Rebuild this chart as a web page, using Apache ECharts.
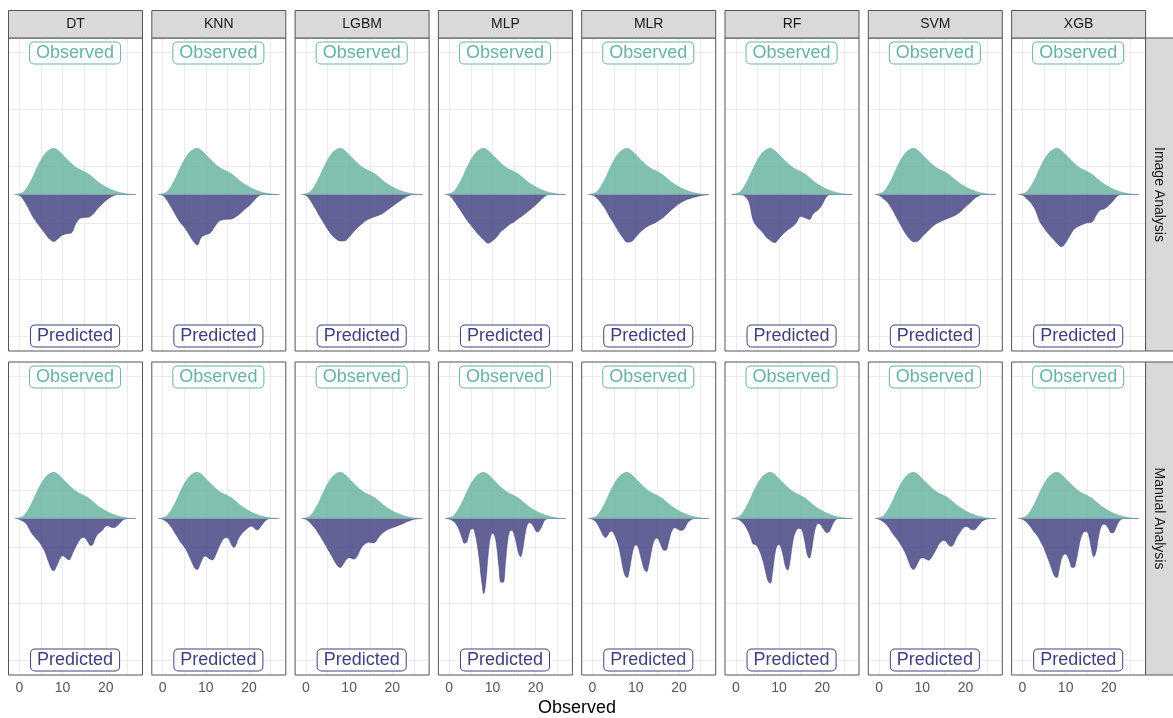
<!DOCTYPE html>
<html>
<head>
<meta charset="utf-8">
<script src="https://cdn.jsdelivr.net/npm/echarts@6/dist/echarts.min.js"></script>
<style>
  html, body { margin: 0; padding: 0; background: #ffffff; }
  #chart { width: 1173px; height: 718px; }
</style>
</head>
<body>
<div id="chart"></div>
<script>
// Facets
const models = ['DT', 'KNN', 'LGBM', 'MLP', 'MLR', 'RF', 'SVM', 'XGB'];
const analyses = ['Image Analysis', 'Manual Analysis'];

// Axis ticks and grid lines
const xTickValues = [0, 10, 20];
const xGridValues = [0, 5, 10, 15, 20, 25];
const yGridValues = [-5, -3, -1, 1, 3, 5];

// Sample positions of the density curves
const xCoarse = [-1, 0, 1, 2, 3, 4, 5, 6, 7, 8, 9, 10, 11, 12, 13, 14, 15, 16, 17, 18, 19, 20, 21, 22, 23, 24, 25, 26, 27];
const xFine = [-1, -0.5, 0, 0.5, 1, 1.5, 2, 2.5, 3, 3.5,
  4, 4.5, 5, 5.5, 6, 6.5, 7, 7.5, 8, 8.5,
  9, 9.5, 10, 10.5, 11, 11.5, 12, 12.5, 13, 13.5,
  14, 14.5, 15, 15.5, 16, 16.5, 17, 17.5, 18, 18.5,
  19, 19.5, 20, 20.5, 21, 21.5, 22, 22.5, 23, 23.5,
  24, 24.5, 25, 25.5, 26, 26.5, 27];

// Observed density (same in every panel), on xCoarse
const observedDensity = [0, 0.03, 0.1, 0.3, 0.58, 0.92, 1.22, 1.45, 1.58, 1.63, 1.55, 1.4, 1.25, 1.1, 0.97, 0.88, 0.81, 0.72, 0.6, 0.47, 0.36, 0.27, 0.19, 0.13, 0.08, 0.05, 0.02, 0.01, 0];

// Predicted densities, Image Analysis, on xCoarse
const imageDT   = [0, 0.03, 0.2, 0.45, 0.75, 0.98, 1.18, 1.38, 1.57, 1.66, 1.55, 1.43, 1.38, 1.36, 1.05, 0.85, 0.81, 0.8, 0.7, 0.52, 0.36, 0.22, 0.11, 0.03, 0, 0, 0, 0, 0];
const imageKNN  = [0, 0.03, 0.2, 0.45, 0.72, 0.97, 1.15, 1.38, 1.62, 1.78, 1.5, 1.42, 1.36, 1.15, 0.95, 0.89, 0.87, 0.86, 0.78, 0.66, 0.52, 0.4, 0.24, 0.08, 0, 0, 0, 0, 0];
const imageLGBM = [0, 0.03, 0.2, 0.45, 0.72, 0.97, 1.22, 1.43, 1.57, 1.64, 1.63, 1.5, 1.32, 1.16, 1.03, 0.91, 0.84, 0.78, 0.72, 0.64, 0.53, 0.42, 0.31, 0.2, 0.1, 0.03, 0, 0, 0];
const imageMLP  = [0, 0.03, 0.2, 0.42, 0.65, 0.88, 1.08, 1.27, 1.45, 1.6, 1.72, 1.63, 1.5, 1.3, 1.18, 1.05, 0.97, 0.85, 0.75, 0.62, 0.5, 0.37, 0.22, 0.08, 0, 0, 0, 0, 0];
const imageMLR  = [0, 0.02, 0.12, 0.3, 0.52, 0.8, 1.03, 1.3, 1.52, 1.68, 1.66, 1.5, 1.33, 1.2, 1.1, 1.03, 0.95, 0.85, 0.72, 0.58, 0.45, 0.33, 0.24, 0.17, 0.12, 0.08, 0.04, 0.02, 0];
const imageRF   = [0, 0, 0.01, 0.05, 0.25, 0.9, 1.15, 1.3, 1.5, 1.62, 1.7, 1.55, 1.38, 1.25, 1.15, 1.0, 0.78, 0.82, 0.88, 0.66, 0.55, 0.35, 0.08, 0, 0, 0, 0, 0, 0];
const imageSVM  = [0, 0.03, 0.15, 0.28, 0.52, 0.8, 1.08, 1.35, 1.55, 1.67, 1.64, 1.48, 1.33, 1.18, 1.05, 0.97, 0.9, 0.84, 0.78, 0.7, 0.58, 0.43, 0.3, 0.15, 0.05, 0, 0, 0, 0];
const imageXGB  = [0, 0.02, 0.15, 0.3, 0.55, 0.95, 1.18, 1.38, 1.55, 1.72, 1.84, 1.7, 1.45, 1.22, 1.12, 1.05, 1.0, 0.98, 0.75, 0.55, 0.5, 0.38, 0.22, 0.05, 0, 0, 0, 0, 0];

// Predicted densities, Manual Analysis, on xFine
const manualDT = [0, 0.005, 0.03, 0.07, 0.11, 0.17, 0.28, 0.42, 0.55, 0.64,
  0.73, 0.81, 0.92, 1.05, 1.2, 1.42, 1.62, 1.8, 1.84, 1.72,
  1.55, 1.38, 1.31, 1.35, 1.42, 1.46, 1.35, 1.17, 1.02, 0.87,
  0.75, 0.68, 0.67, 0.74, 0.86, 0.95, 0.92, 0.72, 0.58, 0.5,
  0.45, 0.36, 0.27, 0.26, 0.29, 0.32, 0.32, 0.27, 0.2, 0.12,
  0.05, 0.02, 0, 0, 0, 0, 0];
const manualKNN = [0, 0.005, 0.03, 0.07, 0.12, 0.2, 0.3, 0.42, 0.55, 0.67,
  0.8, 0.9, 1.0, 1.12, 1.28, 1.45, 1.62, 1.76, 1.8, 1.68,
  1.5, 1.35, 1.33, 1.38, 1.44, 1.46, 1.38, 1.2, 1.02, 0.86,
  0.74, 0.68, 0.68, 0.78, 0.94, 1.02, 0.92, 0.72, 0.6, 0.5,
  0.43, 0.36, 0.3, 0.27, 0.3, 0.38, 0.4, 0.33, 0.22, 0.12,
  0.05, 0.01, 0, 0, 0, 0, 0];
const manualLGBM = [0, 0.005, 0.03, 0.08, 0.15, 0.24, 0.33, 0.43, 0.55, 0.67,
  0.8, 0.93, 1.07, 1.2, 1.33, 1.47, 1.6, 1.7, 1.73, 1.65,
  1.52, 1.42, 1.38, 1.4, 1.43, 1.4, 1.28, 1.13, 1.0, 0.92,
  0.86, 0.84, 0.85, 0.86, 0.84, 0.74, 0.63, 0.55, 0.48, 0.43,
  0.38, 0.35, 0.32, 0.3, 0.27, 0.24, 0.21, 0.18, 0.14, 0.11,
  0.08, 0.05, 0.03, 0.02, 0.01, 0, 0];
const manualMLP = [0, 0.005, 0.02, 0.05, 0.1, 0.18, 0.3, 0.48, 0.7, 0.87,
  0.85, 0.6, 0.38, 0.36, 0.55, 0.95, 1.5, 2.2, 2.65, 2.2,
  1.3, 0.7, 0.52, 0.6, 1.0, 1.7, 2.25, 2.25, 1.6, 0.8,
  0.45, 0.42, 0.55, 0.85, 1.2, 1.35, 1.1, 0.6, 0.25, 0.15,
  0.18, 0.28, 0.42, 0.48, 0.4, 0.25, 0.08, 0.02, 0, 0,
  0, 0, 0, 0, 0, 0, 0];
const manualMLR = [0, 0.005, 0.03, 0.08, 0.16, 0.3, 0.45, 0.6, 0.67, 0.6,
  0.47, 0.45, 0.55, 0.72, 0.95, 1.3, 1.72, 2.0, 2.08, 1.85,
  1.4, 1.05, 0.93, 1.0, 1.25, 1.55, 1.8, 1.88, 1.65, 1.25,
  0.9, 0.72, 0.7, 0.82, 1.0, 1.12, 1.12, 0.9, 0.6, 0.4,
  0.33, 0.35, 0.4, 0.42, 0.4, 0.3, 0.15, 0.08, 0.03, 0,
  0, 0, 0, 0, 0, 0, 0];
const manualRF = [0, 0.005, 0.01, 0.03, 0.07, 0.13, 0.22, 0.35, 0.5, 0.7,
  0.9, 0.92, 1.0, 1.15, 1.35, 1.62, 1.95, 2.22, 2.28, 1.9,
  1.3, 0.98, 0.92, 1.05, 1.35, 1.7, 1.82, 1.55, 1.0, 0.6,
  0.42, 0.35, 0.36, 0.5, 0.85, 1.25, 1.4, 1.15, 0.65, 0.3,
  0.18, 0.2, 0.3, 0.42, 0.5, 0.48, 0.35, 0.18, 0.06, 0.01,
  0, 0, 0, 0, 0, 0, 0];
const manualSVM = [0, 0.005, 0.03, 0.07, 0.12, 0.18, 0.27, 0.38, 0.5, 0.6,
  0.7, 0.8, 0.92, 1.05, 1.2, 1.38, 1.58, 1.75, 1.8, 1.7,
  1.55, 1.42, 1.38, 1.4, 1.45, 1.47, 1.4, 1.28, 1.15, 1.0,
  0.87, 0.8, 0.78, 0.82, 0.92, 0.98, 0.96, 0.82, 0.65, 0.53,
  0.42, 0.33, 0.28, 0.3, 0.35, 0.4, 0.4, 0.34, 0.25, 0.15,
  0.08, 0.04, 0.02, 0.01, 0, 0, 0];
const manualXGB = [0, 0.005, 0.03, 0.07, 0.13, 0.22, 0.32, 0.43, 0.52, 0.62,
  0.75, 0.9, 1.05, 1.25, 1.45, 1.65, 1.88, 2.05, 2.08, 1.8,
  1.45, 1.28, 1.25, 1.35, 1.55, 1.73, 1.72, 1.45, 1.05, 0.7,
  0.52, 0.46, 0.48, 0.7, 1.1, 1.35, 1.2, 0.75, 0.38, 0.22,
  0.2, 0.26, 0.38, 0.5, 0.5, 0.38, 0.2, 0.08, 0.02, 0,
  0, 0, 0, 0, 0, 0, 0];

// Lookup tables built from the arrays above
const predicted = [
  { xs: xCoarse, DT: imageDT, KNN: imageKNN, LGBM: imageLGBM, MLP: imageMLP, MLR: imageMLR, RF: imageRF, SVM: imageSVM, XGB: imageXGB },
  { xs: xFine, DT: manualDT, KNN: manualKNN, LGBM: manualLGBM, MLP: manualMLP, MLR: manualMLR, RF: manualRF, SVM: manualSVM, XGB: manualXGB }
];

// Layout
const FONT = '"Liberation Sans", Arial, sans-serif';
const OBS_COLOR = '#69b3a2';
const PRED_COLOR = '#404080';
const panelLeft0 = 8.5, panelStep = 143.3, panelW = 134, panelH = 313;
const rowTops = [38, 362];
const X_MIN = -2.5, X_MAX = 28.5, Y_LIM = 5.52;
const LABEL_X = 12.9, LABEL_Y = 4.99;

const grids = [], xAxes = [], yAxes = [], series = [], graphics = [];

analyses.forEach((analysis, r) => {
  models.forEach((model, c) => {
    const idx = r * models.length + c;
    const left = panelLeft0 + panelStep * c;
    const top = rowTops[r];
    grids.push({ left: left, top: top, width: panelW, height: panelH, outerBoundsMode: 'none', containLabel: false });
    const bottomRow = r === analyses.length - 1;
    xAxes.push({
      gridIndex: idx, type: 'value', min: X_MIN, max: X_MAX,
      axisLine: { show: false },
      splitLine: { show: false },
      axisTick: { show: bottomRow, customValues: xTickValues, length: 4, lineStyle: { color: '#4d4d4d', width: 1 } },
      axisLabel: { show: bottomRow, customValues: xTickValues, color: '#555555', fontSize: 14, fontFamily: FONT, margin: 6 }
    });
    yAxes.push({ gridIndex: idx, type: 'value', min: -Y_LIM, max: Y_LIM, show: false });

    // panel grid lines (kept underneath the densities)
    series.push({
      type: 'line', xAxisIndex: idx, yAxisIndex: idx, data: [], silent: true, z: 1, animation: false,
      markLine: {
        z: 1, silent: true, animation: false, symbol: ['none', 'none'], label: { show: false },
        lineStyle: { color: '#ebebeb', width: 1, type: 'solid' },
        emphasis: { disabled: true },
        data: yGridValues.map(v => ({ yAxis: v })).concat(xGridValues.map(v => ({ xAxis: v })))
      }
    });

    // observed density (upper half)
    series.push({
      type: 'line', xAxisIndex: idx, yAxisIndex: idx, silent: true, animation: false, z: 3,
      smooth: 0.4, symbol: 'none',
      lineStyle: { width: 0.6, color: OBS_COLOR, opacity: 0.84 },
      areaStyle: { color: OBS_COLOR, opacity: 0.84, origin: 0 },
      data: xCoarse.map((x, i) => [x, observedDensity[i]])
    });

    // predicted density (mirrored, lower half)
    const xs = predicted[r].xs, vals = predicted[r][model];
    series.push({
      type: 'line', xAxisIndex: idx, yAxisIndex: idx, silent: true, animation: false, z: 3,
      smooth: 0.4, symbol: 'none',
      lineStyle: { width: 0.6, color: PRED_COLOR, opacity: 0.82 },
      areaStyle: { color: PRED_COLOR, opacity: 0.82, origin: 0 },
      data: xs.map((x, i) => [x, -vals[i]])
    });

    // boxed labels
    const labelBox = (text, color) => ({
      show: true, position: 'inside', formatter: text, color: color, opacity: 1,
      fontSize: 18, fontFamily: FONT, backgroundColor: '#ffffff',
      borderColor: color, borderWidth: 1, borderRadius: 4, padding: [2, 6, 1, 6]
    });
    series.push({
      type: 'scatter', xAxisIndex: idx, yAxisIndex: idx, silent: true, animation: false, z: 5,
      symbolSize: 1, itemStyle: { color: 'rgba(0,0,0,0)', opacity: 1 },
      labelLayout: { hideOverlap: false },
      data: [{ value: [LABEL_X, LABEL_Y], label: labelBox('Observed', OBS_COLOR) },
             { value: [LABEL_X, -LABEL_Y], label: labelBox('Predicted', PRED_COLOR) }]
    });

    // panel border
    graphics.push({
      type: 'rect', z: 100, silent: true,
      shape: { x: left, y: top, width: panelW, height: panelH },
      style: { fill: 'none', stroke: '#555555', lineWidth: 1 }
    });
  });
});

// top strips
models.forEach((model, c) => {
  const left = panelLeft0 + panelStep * c;
  graphics.push({
    type: 'rect', z: 100, silent: true,
    shape: { x: left, y: 10.5, width: panelW, height: 27.5 },
    style: { fill: '#d9d9d9', stroke: '#555555', lineWidth: 1 }
  });
  graphics.push({
    type: 'text', z: 101, silent: true,
    style: { text: model, x: left + panelW / 2, y: 24.5, textAlign: 'center', textVerticalAlign: 'middle',
             font: '14px ' + FONT, fill: '#1a1a1a' }
  });
});

// right strips
const stripX = panelLeft0 + panelStep * (models.length - 1) + panelW;
analyses.forEach((analysis, r) => {
  graphics.push({
    type: 'rect', z: 100, silent: true,
    shape: { x: stripX, y: rowTops[r], width: 40, height: panelH },
    style: { fill: '#d9d9d9', stroke: '#555555', lineWidth: 1 }
  });
  graphics.push({
    type: 'text', z: 101, silent: true,
    x: stripX + 13, y: rowTops[r] + panelH / 2, rotation: -Math.PI / 2,
    style: { text: analysis, x: 0, y: 0, textAlign: 'center', textVerticalAlign: 'middle',
             font: '14px ' + FONT, fill: '#1a1a1a' }
  });
});

// x axis title
graphics.push({
  type: 'text', z: 101, silent: true,
  style: { text: 'Observed', x: (panelLeft0 + stripX) / 2, y: 708, textAlign: 'center', textVerticalAlign: 'middle',
           font: '18px ' + FONT, fill: '#000000' }
});

const chart = echarts.init(document.getElementById('chart'), null, { renderer: 'canvas' });
chart.setOption({
  animation: false,
  backgroundColor: '#ffffff',
  grid: grids,
  xAxis: xAxes,
  yAxis: yAxes,
  series: series,
  graphic: { elements: graphics }
});
</script>
</body>
</html>
